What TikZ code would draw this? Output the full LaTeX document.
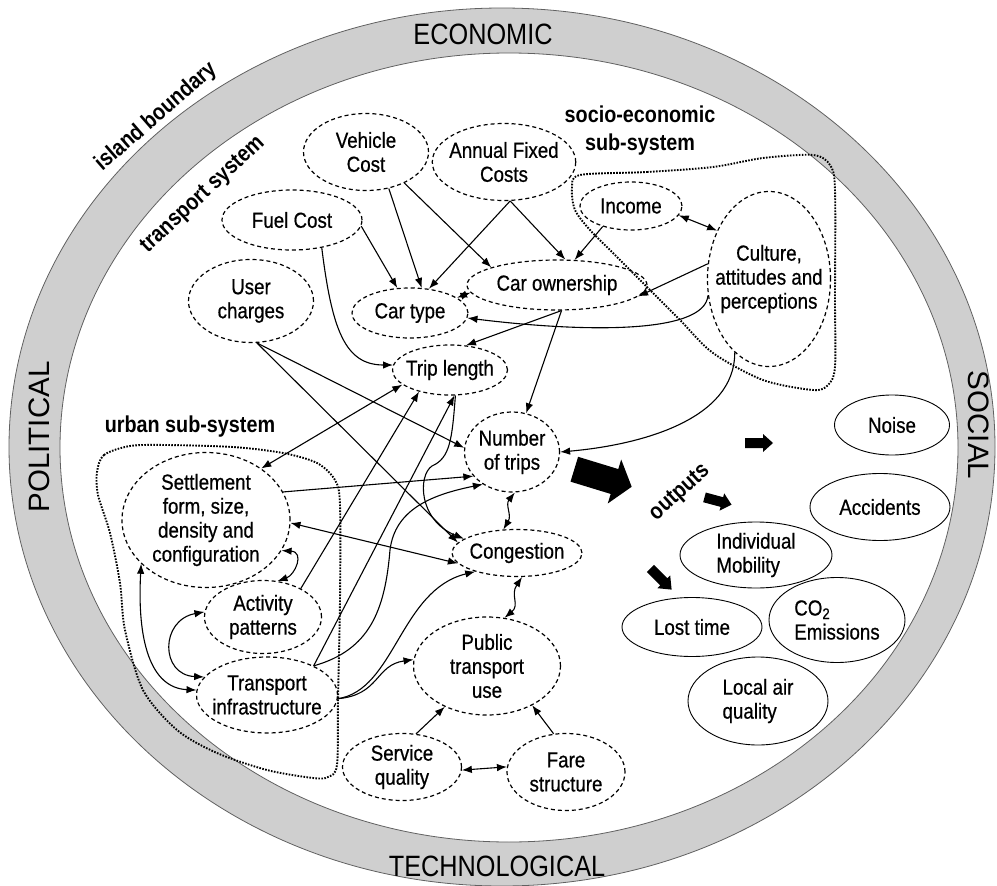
\documentclass[tikz,border=0pt]{standalone}
\usepackage{fontspec}
\setmainfont{Liberation Sans}[FakeStretch=0.86]
\newfontfamily\ringfont{Liberation Sans}
\newfontfamily\nodofont{Liberation Sans}[FakeStretch=0.86, FakeBold=0.6]
\usetikzlibrary{shapes.geometric,arrows.meta}

\definecolor{anillo}{gray}{0.81}
\definecolor{bordeanillo}{gray}{0.38}
\newcommand{\fuentenodo}{\nodofont\fontsize{21.8}{24}\selectfont}
\newcommand{\fuentegrupo}{\fontsize{23}{28}\selectfont\bfseries}

\begin{document}
\begin{tikzpicture}[x=1pt,y=-1pt,
        var/.style={draw, ellipse, dash pattern=on 4pt off 3pt, line width=1.2pt,
            inner sep=0pt, align=center, font=\fuentenodo},
        salida/.style={draw, ellipse, line width=0.9pt, inner sep=0pt,
            align=left, font=\fuentenodo},
        conn/.style={-{Latex[length=10pt,width=7.5pt]}, line width=1.1pt},
        dconn/.style={{Latex[length=10pt,width=7.5pt]}-{Latex[length=10pt,width=7.5pt]}, line width=1.1pt},
        subsis/.style={dash pattern=on 1.6pt off 1.4pt, line width=1.9pt},
        grupo/.style={font=\fuentegrupo, inner sep=0pt, align=center},
        dimh/.style={font=\fontsize{29.4}{32}\selectfont, inner sep=0pt},
        dimv/.style={font=\ringfont\fontsize{29.5}{32}\selectfont, inner sep=0pt}]
        \useasboundingbox (0,0) rectangle (997,886);

        % Anillo exterior
        \fill[anillo, even odd rule] (502,447) ellipse [x radius=493pt, y radius=439pt]
            (509,447.5) ellipse [x radius=449pt, y radius=394.5pt];
        \draw[bordeanillo, line width=0.8pt] (502,447) ellipse [x radius=493pt, y radius=439pt];
        \draw[bordeanillo, line width=0.8pt] (509,447.5) ellipse [x radius=449pt, y radius=394.5pt];

        % Dimensiones del anillo
        \node[dimh] (econ) at (483,34) {ECONOMIC};
        \node[dimh] (tech) at (497,866) {TECHNOLOGICAL};
        \node[dimv, rotate=90] (poli) at (39,437) {POLITICAL};
        \node[dimv, rotate=-90] (soci) at (979,425) {SOCIAL};

        % Subsistemas
        \draw[subsis] plot[smooth cycle, tension=0.5] coordinates {(580,175) (647,172)
            (713,167) (763,158) (813,155) (830,165) (835,190) (835,300) (835,367)
            (828,385) (813,390) (763,380) (713,353) (680,320) (647,287) (613,253)
            (590,230) (575,210) (572,188)};
        \draw[subsis] plot[smooth cycle, tension=0.5] coordinates {(97,472) (104,455)
            (130,446) (167,445) (233,447) (283,453) (317,463) (335,480) (340,505)
            (340,600) (338,700) (337,765) (328,777) (313,778) (267,770) (217,753)
            (177,730) (143,690) (125,630) (120,583) (110,533) (98,495)};

        % Etiquetas
        \node[grupo, rotate=41] (isla) at (156,117) {island boundary};
        \node[grupo, rotate=43] (trans) at (203,195) {transport system};
        \node[grupo] (socio) at (640,131) {socio-economic\\sub-system};
        \node[grupo] (urban) at (190,427) {urban sub-system};
        \node[grupo, rotate=42] (outp) at (680,493) {outputs};

        % Variables
        \node[var, minimum width=125pt, minimum height=77pt] (veh) at (366,152) {Vehicle\\Cost};
        \node[var, minimum width=142pt, minimum height=77pt, inner xsep=-4pt] (afc) at (504,162) {Annual Fixed\\Costs};
        \node[var, minimum width=140pt, minimum height=60pt] (fuel) at (292,220) {Fuel Cost};
        \node[var, minimum width=125pt, minimum height=83pt] (user) at (251,301) {User\\charges};
        \node[var, minimum width=116pt, minimum height=50pt] (cartype) at (410,313) {Car type};
        \node[var, minimum width=180pt, minimum height=50pt] (carown) at (557,285) {Car ownership};
        \node[var, minimum width=102pt, minimum height=48pt] (income) at (631,206) {Income};
        \node[var, minimum width=123pt, minimum height=175pt, inner xsep=-14pt] (culture) at (769,279) {Culture,\\attitudes and\\perceptions};
        \node[var, minimum width=115pt, minimum height=50pt, inner xsep=-5pt] (trip) at (450,370) {Trip length};
        \node[var, minimum width=95pt, minimum height=80pt] (ntrips) at (512,452) {Number\\of trips};
        \node[var, minimum width=130pt, minimum height=47pt, inner xsep=-4pt] (cong) at (517,553) {Congestion};
        \node[var, minimum width=147pt, minimum height=98pt] (pt) at (487,666) {Public\\transport\\use};
        \node[var, minimum width=119pt, minimum height=67pt] (serv) at (402,767) {Service\\quality};
        \node[var, minimum width=118pt, minimum height=77pt] (fare) at (566,772) {Fare\\structure};
        \node[var, minimum width=168pt, minimum height=135pt] (settle) at (206,520) {Settlement\\form, size,\\density and\\configuration};
        \node[var, minimum width=117pt, minimum height=73pt] (activ) at (263,617) {Activity\\patterns};
        \node[var, minimum width=141pt, minimum height=76pt, inner xsep=-12pt] (ti) at (267,695) {Transport\\infrastructure};

        % Salidas
        \node[salida, minimum width=115pt, minimum height=60pt] (noise) at (892,425) {Noise};
        \node[salida, minimum width=140pt, minimum height=67pt] (accid) at (880,507) {Accidents};
        \node[salida, minimum width=152pt, minimum height=66pt] (mobil) at (756,555) {Individual\\Mobility};
        \node[salida, minimum width=140pt, minimum height=59pt] (lost) at (692,627) {Lost time};
        \node[salida, minimum width=136pt, minimum height=85pt] (co2) at (837,620) {CO\textsubscript{2}\\Emissions};
        \node[salida, minimum width=140pt, minimum height=88pt] (air) at (758,701) {Local air\\quality};

        % Flechas gruesas
        \fill[shift={(603,478)}, rotate=-17] (-30,-13) -- (12,-13) -- (12,-23) -- (30,0)
            -- (12,23) -- (12,13) -- (-30,13) -- cycle;
        \fill[shift={(759,443)}] (-14,-5) -- (4,-5) -- (4,-9) -- (14,0) -- (4,9) -- (4,5) -- (-14,5) -- cycle;
        \fill[shift={(718,501)}, rotate=-15] (-14,-5) -- (4,-5) -- (4,-9) -- (14,0) -- (4,9) -- (4,5) -- (-14,5) -- cycle;
        \fill[shift={(661,579)}, rotate=-45] (-15,-5) -- (4,-5) -- (4,-9) -- (15,0) -- (4,9) -- (4,5) -- (-15,5) -- cycle;

        % Costes
        \draw[conn] (veh.-58) -- (cartype.65);
        \draw[conn] (veh.-39) -- (carown.165);
        \draw[conn] (fuel.-5) -- (cartype.117);
        \draw[conn] (afc.-81) -- (cartype.52);
        \draw[conn] (afc.-81) -- (carown.72);
        \draw[conn] (income.-144) -- (carown.55);
        \draw[dconn] (income.-11) -- (culture.137);
        \draw[conn] (culture.166) -- (carown.-8);
        \draw[dconn] (cartype.18) -- (carown.185);
        \draw[conn] (culture.195) .. controls (705,335) and (580,332) .. (cartype.-5);

        % Viajes
        \draw[conn] (carown.-80) -- (trip.57);
        \draw[conn] (carown.-80) -- (ntrips.70);
        \draw[conn] (fuel.-43) .. controls (332,330) and (345,365) .. (trip.175);
        \draw[conn] (user.-82) -- (ntrips.175);
        \draw[conn] (user.-82) -- (cong.170);
        \draw[conn] (culture.-115) .. controls (735,420) and (640,445) .. (ntrips.east);
        \draw[dconn] (trip.-163) -- (settle.43);
        \draw[conn] (activ.37) -- (trip.-145);
        \draw[conn] (ti.32) -- (trip.-80);
        \draw[conn] (trip.-78) .. controls (452,440) and (450,458) .. (432,466)
            .. controls (418,475) and (418,520) .. (cong.165);

        % Sistema urbano
        \draw[conn] (ti.32) .. controls (370,650) and (385,610) .. (390,550)
            .. controls (395,510) and (430,495) .. (ntrips.-132);
        \draw[conn] (ti.-3) .. controls (395,690) and (400,590) .. (cong.-156);
        \draw[conn] (ti.-3) .. controls (380,695) and (375,665) .. (pt.175);
        \draw[conn] (settle.20) -- (ntrips.-148);
        \draw[dconn] (settle.-2) -- (cong.-170);
        \draw[dconn] (ntrips.-86) .. controls (505,505) and (512,515) .. (cong.120);
        \draw[dconn] (cong.-78) .. controls (510,595) and (520,605) .. (pt.70);
        \draw[dconn] (settle.-22) .. controls (305,552) and (295,575) .. (activ.68);
        \draw[dconn] (activ.175) .. controls (160,620) and (160,675) .. (ti.164);
        \draw[dconn] (settle.-146) .. controls (137,640) and (150,688) .. (ti.176);

        % Transporte publico
        \draw[conn] (serv.67) -- (pt.-136);
        \draw[dconn] (serv.-3) -- (fare.175);
        \draw[conn] (fare.108) -- (pt.-41);
    \end{tikzpicture}
\end{document}
